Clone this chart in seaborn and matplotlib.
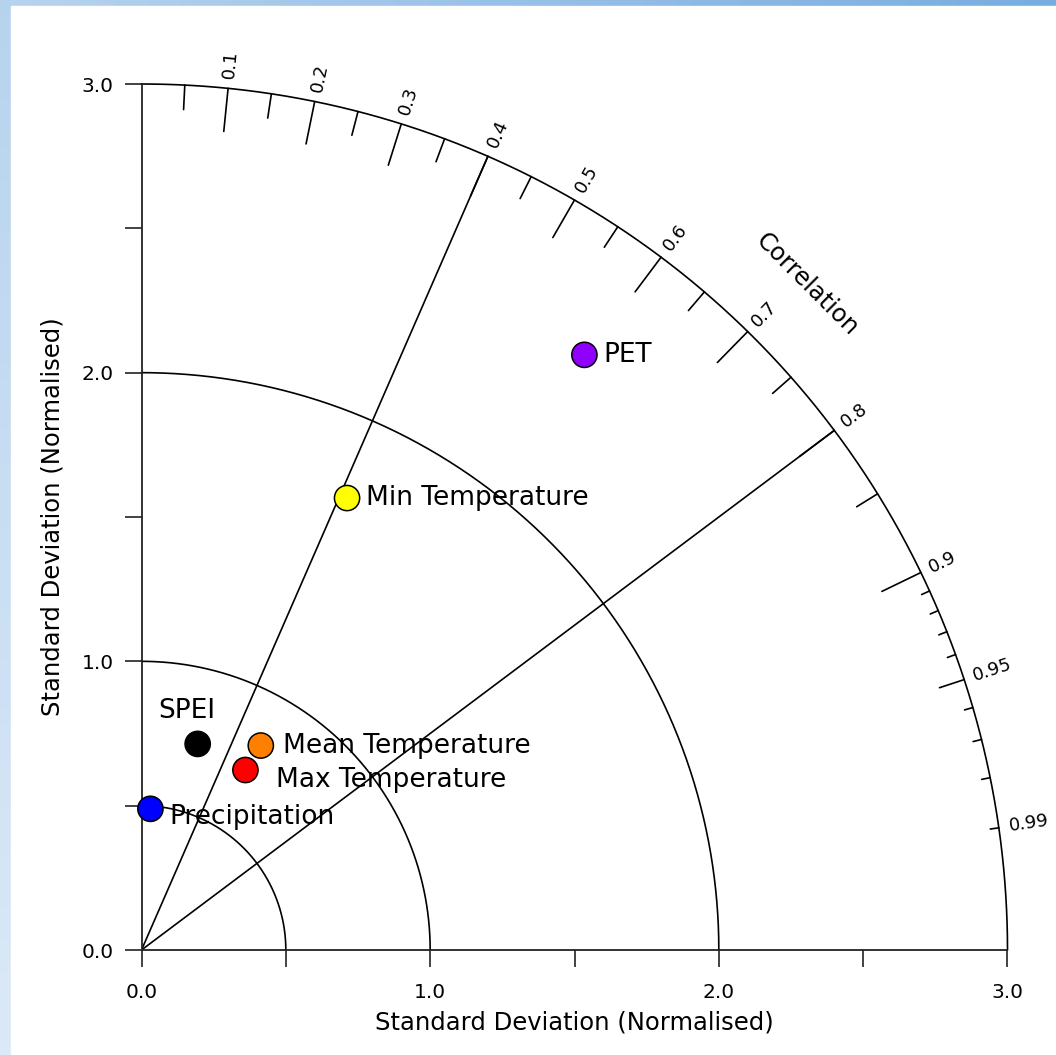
"""Diagramme de Taylor : SPEI et variables climatiques (écart-type normalisé)."""

import numpy as np
import pandas as pd
import matplotlib
matplotlib.use("Agg")
import matplotlib.pyplot as plt
import seaborn as sns

# Données
variables = ["PET", "Min Temperature", "SPEI", "Mean Temperature",
             "Max Temperature", "Precipitation"]
std_norm = [2.57, 1.72, 0.74, 0.82, 0.72, 0.49]
correlation = [0.597, 0.414, 0.263, 0.504, 0.500, 0.063]
couleurs = ["#8f00ff", "#ffff00", "#000000", "#ff8000", "#ff0000", "#0000ff"]

# Décalage des étiquettes en points (x, y)
decalages = [(14, 0), (14, 0), (-8, 24), (16, 0), (22, -7), (14, -6)]

std_ticks = [0.0, 0.5, 1.0, 1.5, 2.0, 2.5, 3.0]
std_labels = ["0.0", "", "1.0", "", "2.0", "", "3.0"]
arcs_std = [0.5, 1.0, 2.0]
rayons_corr = [0.4, 0.8]
corr_majeurs = [0.1, 0.2, 0.3, 0.4, 0.5, 0.6, 0.7, 0.8, 0.9]
corr_mineurs = [0.05, 0.15, 0.25, 0.35, 0.45, 0.55, 0.65, 0.75, 0.85]
corr_fins = [0.91, 0.92, 0.93, 0.94, 0.96, 0.97, 0.98, 0.99]
corr_etiquettes = [0.1, 0.2, 0.3, 0.4, 0.5, 0.6, 0.7, 0.8, 0.9, 0.95, 0.99]
RMAX = 3.0

sns.set_style("white")
plt.rcParams["font.family"] = ["DejaVu Sans"]
plt.rcParams["text.color"] = "black"

fig = plt.figure(figsize=(10.56, 10.55), dpi=100)

# Cadre bleu dégradé (haut et gauche)
bg = fig.add_axes([0, 0, 1, 1], zorder=-10)
gx = np.linspace(0, 1, 64)
gy = np.linspace(0, 1, 64)
GX, GY = np.meshgrid(gx, gy)
grad = np.clip(0.55 * GY + 0.35 * (1 - GX) * (1 - GY), 0, 1)
cmap = matplotlib.colors.LinearSegmentedColormap.from_list(
    "cadre", ["#78ade0", "#dbe9f7"])
bg.imshow(grad, cmap=cmap, extent=[0, 1, 0, 1], origin="upper", aspect="auto")
bg.add_patch(plt.Rectangle((11 / 1056, 0), 1, 1 - 6 / 1055,
                           color="white", zorder=2))
bg.set_xlim(0, 1)
bg.set_ylim(0, 1)
bg.axis("off")

ax = fig.add_axes([141 / 1056, 105 / 1055, 867 / 1056, 866 / 1055])
ax.set_facecolor("none")

# Points
df = pd.DataFrame({
    "variable": variables,
    "x": np.array(std_norm) * np.array(correlation),
    "y": np.array(std_norm) * np.sin(np.arccos(correlation)),
})
sns.scatterplot(data=df, x="x", y="y", hue="variable",
                palette=dict(zip(variables, couleurs)), s=330,
                edgecolor="black", linewidth=1.1, legend=False, ax=ax,
                zorder=5, clip_on=False)

ax.set_xlim(0, RMAX)
ax.set_ylim(0, RMAX)
ax.set_aspect("equal")

# Axes cartésiens
for cote in ["top", "right"]:
    ax.spines[cote].set_visible(False)
for cote in ["left", "bottom"]:
    ax.spines[cote].set_linewidth(1.3)
    ax.spines[cote].set_color("#222222")
ax.set_xticks(std_ticks)
ax.set_xticklabels(std_labels)
ax.set_yticks(std_ticks)
ax.set_yticklabels(std_labels)
ax.tick_params(bottom=True, left=True, direction="out", length=12, width=1.2,
               labelsize=14.5, color="#222222", labelcolor="black")
ax.tick_params(axis="x", pad=12)
ax.tick_params(axis="y", pad=8)
ax.set_xlabel("Standard Deviation (Normalised)", fontsize=17.5, labelpad=6,
              color="black")
ax.set_ylabel("Standard Deviation (Normalised)", fontsize=17.5, labelpad=12,
              color="black")

# Arcs d'écart-type et arc extérieur
theta = np.linspace(0, np.pi / 2, 300)
for r in arcs_std + [RMAX]:
    ax.plot(r * np.cos(theta), r * np.sin(theta), color="black", lw=1.2,
            clip_on=False)

# Rayons de corrélation
for c in rayons_corr:
    t = np.arccos(c)
    ax.plot([0, RMAX * np.cos(t)], [0, RMAX * np.sin(t)], color="black", lw=1.2)


def trait_corr(c, longueur):
    t = np.arccos(c)
    r = [RMAX - longueur, RMAX]
    ax.plot(np.multiply(r, np.cos(t)), np.multiply(r, np.sin(t)),
            color="black", lw=1.2, clip_on=False)


for c in corr_majeurs:
    trait_corr(c, 0.15)
trait_corr(0.95, 0.09)
for c in corr_mineurs:
    trait_corr(c, 0.085)
for c in corr_fins:
    trait_corr(c, 0.03)

for c in corr_etiquettes:
    t = np.arccos(c)
    ax.text(3.035 * np.cos(t), 3.035 * np.sin(t), f"{c:g}", fontsize=13,
            rotation=np.degrees(t), rotation_mode="anchor",
            ha="left", va="center")

ax.text(3.26 * np.cos(np.pi / 4), 3.26 * np.sin(np.pi / 4), "Correlation",
        fontsize=17.5, rotation=-45, ha="center", va="center",
        rotation_mode="anchor")

for (nom, x, y), (dx, dy) in zip(df[["variable", "x", "y"]].values, decalages):
    ha = "center" if nom == "SPEI" else "left"
    ax.annotate(nom, (x, y), xytext=(dx, dy), textcoords="offset points",
                fontsize=19, ha=ha, va="center", zorder=6)

fig.savefig("out.png", dpi=100)
